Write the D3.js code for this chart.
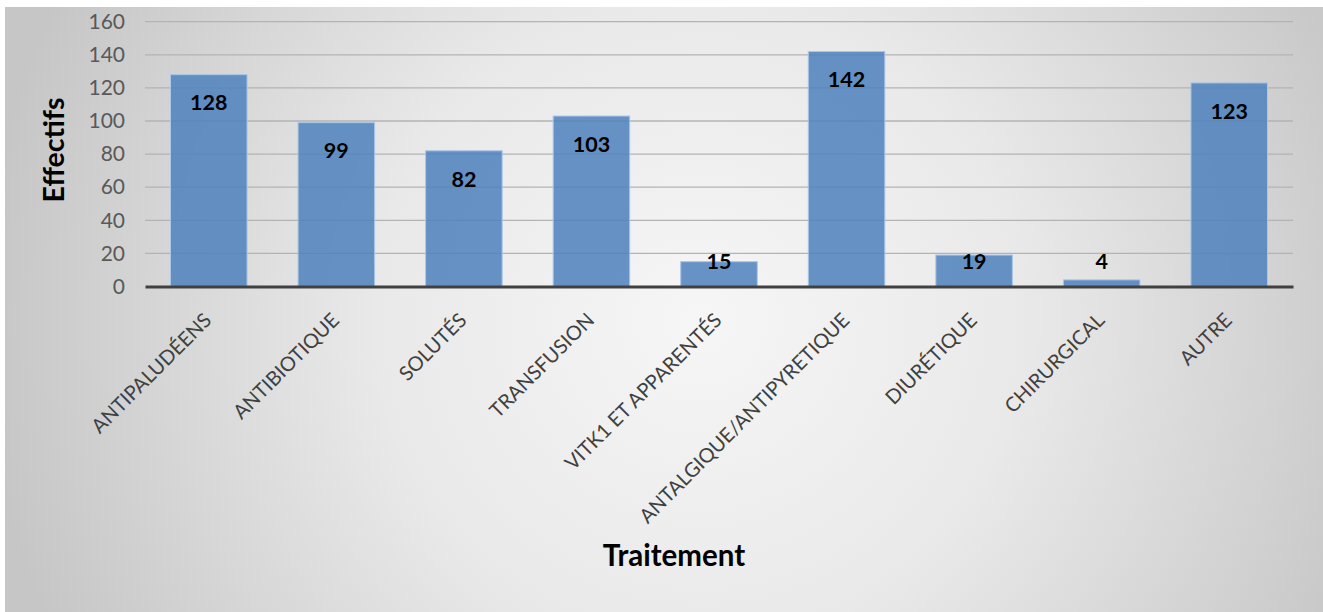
<!DOCTYPE html>
<html>
<head>
<meta charset="utf-8">
<script src="https://cdn.jsdelivr.net/npm/d3@7"></script>
<style>
  html, body { margin: 0; padding: 0; background: #ffffff; }
  svg { display: block; }
  text { font-family: Lato, "Open Sans", sans-serif; }
</style>
</head>
<body>
<script>
// Traitements reçus : effectifs par catégorie
const categories = [
  "ANTIPALUDÉENS", "ANTIBIOTIQUE", "SOLUTÉS", "TRANSFUSION",
  "VITK1 ET APPARENTÉS", "ANTALGIQUE/ANTIPYRETIQUE", "DIURÉTIQUE",
  "CHIRURGICAL", "AUTRE"
];
const effectifs = [128, 99, 82, 103, 15, 142, 19, 4, 123];
const yTicks = [0, 20, 40, 60, 80, 100, 120, 140, 160];
const yTitle = "Effectifs";
const xTitle = "Traitement";

const W = 1323, H = 612;
const plot = { left: 145, right: 1293, top: 21.7, bottom: 286.5 };

const svg = d3.select("body").append("svg")
  .attr("width", W).attr("height", H);

// soft grey radial background
const defs = svg.append("defs");
const grad = defs.append("radialGradient")
  .attr("id", "bg")
  .attr("gradientUnits", "userSpaceOnUse")
  .attr("cx", 700).attr("cy", 320).attr("r", 720);
grad.append("stop").attr("offset", "0").attr("stop-color", "#f6f6f6");
grad.append("stop").attr("offset", "0.45").attr("stop-color", "#e9e9e9");
grad.append("stop").attr("offset", "1").attr("stop-color", "#c6c6c6");

svg.append("rect")
  .attr("x", 5).attr("y", 7)
  .attr("width", W - 5).attr("height", H - 7)
  .attr("fill", "url(#bg)");

const x = d3.scaleBand()
  .domain(categories)
  .range([plot.left, plot.right])
  .paddingInner(0.4)
  .paddingOuter(0.2);

const y = d3.scaleLinear()
  .domain([0, 160])
  .range([plot.bottom, plot.top]);

// horizontal gridlines
svg.append("g")
  .selectAll("line")
  .data(yTicks.filter(d => d > 0))
  .join("line")
  .attr("x1", plot.left).attr("x2", plot.right)
  .attr("y1", d => y(d)).attr("y2", d => y(d))
  .attr("stroke", "#b3b3b3")
  .attr("stroke-width", 1.3);

// y axis tick labels
const yAxis = d3.axisLeft(y).tickValues(yTicks).tickSize(0).tickPadding(20);
const gy = svg.append("g")
  .attr("transform", `translate(${plot.left},0)`)
  .call(yAxis);
gy.select(".domain").remove();
gy.selectAll("text")
  .attr("font-size", 21)
  .attr("fill", "#595959")
  .style("font-family", "Lato, sans-serif");

// bars
svg.append("g")
  .selectAll("rect")
  .data(categories.map((c, i) => ({ c, v: effectifs[i] })))
  .join("rect")
  .attr("x", d => x(d.c))
  .attr("y", d => y(d.v))
  .attr("width", x.bandwidth())
  .attr("height", d => y(0) - y(d.v))
  .attr("fill", "rgba(79,129,189,0.86)")
  .attr("stroke", "#aac6e8")
  .attr("stroke-width", 1);

// x axis baseline and rotated category labels
const xAxis = d3.axisBottom(x).tickSize(0).tickPadding(0);
const gx = svg.append("g")
  .attr("transform", `translate(0,${y(0)})`)
  .call(xAxis);
gx.select(".domain")
  .attr("stroke", "#404040")
  .attr("stroke-width", 3.2);
gx.selectAll(".tick text")
  .attr("font-size", 20)
  .attr("fill", "#404040")
  .attr("text-anchor", "end")
  .attr("dy", 0)
  .attr("transform", "translate(4,35) rotate(-45)")
  .style("font-family", "Lato, sans-serif");

// value labels inside bar tops
svg.append("g")
  .selectAll("text")
  .data(categories.map((c, i) => ({ c, v: effectifs[i] })))
  .join("text")
  .attr("x", d => x(d.c) + x.bandwidth() / 2)
  .attr("y", d => Math.min(y(d.v) + 28, y(0) - 25))
  .attr("dy", "0.36em")
  .attr("text-anchor", "middle")
  .attr("font-size", 21.5)
  .attr("font-weight", "bold")
  .attr("fill", "#000")
  .text(d => d.v);

// axis titles
svg.append("text")
  .attr("transform", "translate(54,150) rotate(-90)")
  .attr("text-anchor", "middle")
  .attr("dy", "0.36em")
  .attr("font-size", 28.5)
  .attr("font-weight", "bold")
  .attr("fill", "#000")
  .text(yTitle);

svg.append("text")
  .attr("x", 674).attr("y", 566)
  .attr("text-anchor", "middle")
  .attr("font-size", 29.5)
  .attr("font-weight", "bold")
  .attr("fill", "#000")
  .text(xTitle);
</script>
</body>
</html>
